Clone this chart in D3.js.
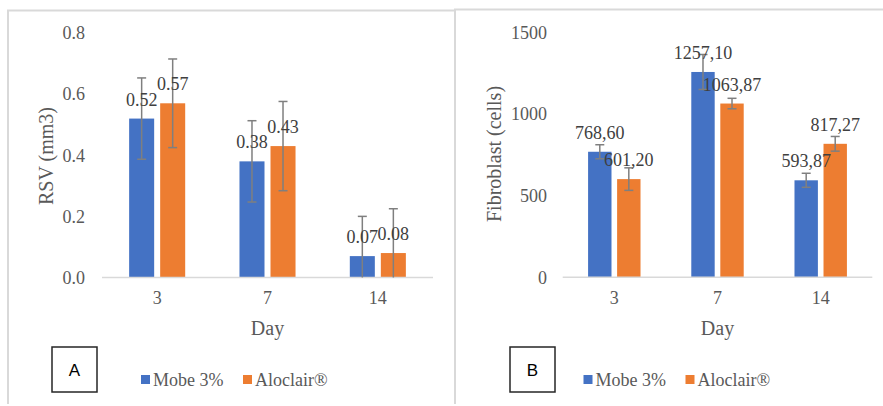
<!DOCTYPE html>
<html>
<head>
<meta charset="utf-8">
<script src="https://cdn.jsdelivr.net/npm/d3@7"></script>
<style>
  body { margin: 0; background: #fff; }
  svg text { font-family: "Liberation Serif", "Times New Roman", serif; }
</style>
</head>
<body>
<svg id="chart" width="883" height="406"></svg>
<script>
// data
const days = ['3', '7', '14'];
const seriesNames = ['Mobe 3%', 'Aloclair®'];
const seriesColors = ['#4472c4', '#ed7d31'];

// panel A - RSV (mm3)
const rsvMobe = [0.52, 0.38, 0.07];
const rsvAloclair = [0.57, 0.43, 0.08];
const rsvErrMobe = [0.133, 0.133, 0.13];
const rsvErrAloclair = [0.145, 0.146, 0.145];
const rsvTicks = [0, 0.2, 0.4, 0.6, 0.8];

// panel B - fibroblast (cells)
const fibMobe = [768.60, 1257.10, 593.87];
const fibAloclair = [601.20, 1063.87, 817.27];
const fibErrMobe = [43, 107, 43];
const fibErrAloclair = [69, 32, 45];
const fibTicks = [0, 500, 1000, 1500];

const svg = d3.select('#chart');

// panel frames
svg.append('path')
    .attr('d', 'M8,404V10.5H455')
    .attr('fill', 'none').attr('stroke', '#d9d9d9').attr('stroke-width', 2);
svg.append('path')
    .attr('d', 'M455,404V9.5H883')
    .attr('fill', 'none').attr('stroke', '#d9d9d9').attr('stroke-width', 2);

function drawPanel(cfg) {
  const x0 = d3.scaleBand()
      .domain(days)
      .range([cfg.left, cfg.right])
      .paddingInner(0.492)
      .paddingOuter(0.246);
  const x1 = d3.scaleBand()
      .domain(seriesNames)
      .range([0, x0.bandwidth()])
      .paddingInner(0.1935);
  const y = d3.scaleLinear()
      .domain([0, d3.max(cfg.ticks)])
      .range([cfg.bottom, cfg.top]);

  const g = svg.append('g');

  // y tick labels (no axis line, like Excel)
  const yAxis = d3.axisLeft(y)
      .tickValues(cfg.ticks)
      .tickFormat(cfg.tickFormat)
      .tickSize(0)
      .tickPadding(cfg.left - cfg.tickX);
  g.append('g')
      .attr('transform', `translate(${cfg.left},0)`)
      .call(yAxis)
      .call(a => a.select('.domain').remove())
      .selectAll('text')
      .attr('fill', '#595959')
      .style('font-size', '18px')
      .style('font-family', '"Liberation Serif", serif');

  // category axis
  const xAxis = d3.axisBottom(x0).tickSize(0).tickPadding(14);
  g.append('g')
      .attr('transform', `translate(0,${cfg.bottom})`)
      .call(xAxis)
      .call(a => a.select('.domain').remove())
      .selectAll('text')
      .attr('fill', '#595959')
      .style('font-size', '18px')
      .style('font-family', '"Liberation Serif", serif');

  // rows for each bar
  const rows = [];
  days.forEach((d, i) => {
    cfg.values.forEach((vals, s) => {
      rows.push({day: d, series: seriesNames[s], s: s, v: vals[i], e: cfg.errors[s][i]});
    });
  });

  g.selectAll('.bar')
      .data(rows)
    .join('rect')
      .attr('class', 'bar')
      .attr('x', d => x0(d.day) + x1(d.series))
      .attr('width', x1.bandwidth())
      .attr('y', d => y(d.v))
      .attr('height', d => y(0) - y(d.v))
      .attr('fill', d => seriesColors[d.s]);

  // baseline
  g.append('line')
      .attr('x1', cfg.left).attr('x2', cfg.right)
      .attr('y1', y(0)).attr('y2', y(0))
      .attr('stroke', '#d9d9d9').attr('stroke-width', 1.5);

  // error bars, clipped at the axis minimum
  const cx = d => x0(d.day) + x1(d.series) + x1.bandwidth() / 2;
  const eg = g.selectAll('.err')
      .data(rows)
    .join('g')
      .attr('class', 'err')
      .attr('stroke', '#7f7f7f')
      .attr('stroke-width', 1.5);
  eg.append('line')
      .attr('x1', cx).attr('x2', cx)
      .attr('y1', d => y(d.v + d.e))
      .attr('y2', d => y(Math.max(0, d.v - d.e)));
  eg.append('line')
      .attr('x1', d => cx(d) - 4.5).attr('x2', d => cx(d) + 4.5)
      .attr('y1', d => y(d.v + d.e)).attr('y2', d => y(d.v + d.e));
  eg.filter(d => d.v - d.e > 0).append('line')
      .attr('x1', d => cx(d) - 4.5).attr('x2', d => cx(d) + 4.5)
      .attr('y1', d => y(d.v - d.e)).attr('y2', d => y(d.v - d.e));

  // data labels
  g.selectAll('.lbl')
      .data(rows)
    .join('text')
      .attr('class', 'lbl')
      .attr('x', cx)
      .attr('y', d => y(d.v) - 13)
      .attr('text-anchor', 'middle')
      .attr('fill', '#404040')
      .style('font-size', '18px')
      .text(d => cfg.labelFormat(d.v));

  // axis titles
  g.append('text')
      .attr('transform', `translate(${cfg.yTitleX},${cfg.yTitleY}) rotate(-90)`)
      .attr('text-anchor', 'middle')
      .attr('dy', '0.35em')
      .attr('fill', '#595959')
      .style('font-size', '20px')
      .text(cfg.yTitle);
  g.append('text')
      .attr('x', (cfg.left + cfg.right) / 2)
      .attr('y', 328)
      .attr('dy', '0.35em')
      .attr('text-anchor', 'middle')
      .attr('fill', '#595959')
      .style('font-size', '20px')
      .text('Day');

  // legend
  const lg = g.append('g').attr('transform', `translate(${cfg.legendX},375)`);
  seriesNames.forEach((name, i) => {
    lg.append('rect')
        .attr('x', i * 102).attr('y', 0)
        .attr('width', 9).attr('height', 9)
        .attr('fill', seriesColors[i]);
    lg.append('text')
        .attr('x', i * 102 + 12).attr('y', 11)
        .attr('fill', '#595959')
        .style('font-size', '18px')
        .text(name);
  });

  // panel letter box
  g.append('rect')
      .attr('x', cfg.boxX).attr('y', 347)
      .attr('width', 45).attr('height', 45)
      .attr('fill', '#fff')
      .attr('stroke', '#262626').attr('stroke-width', 1.5);
  g.append('text')
      .attr('x', cfg.boxX + 22.5).attr('y', 370)
      .attr('dy', '0.35em')
      .attr('text-anchor', 'middle')
      .attr('fill', '#000')
      .style('font-family', '"Liberation Sans", Arial, sans-serif')
      .style('font-size', '17px')
      .text(cfg.letter);
}

drawPanel({
  values: [rsvMobe, rsvAloclair],
  errors: [rsvErrMobe, rsvErrAloclair],
  ticks: rsvTicks,
  tickFormat: d3.format('.1f'),
  labelFormat: d3.format('.2f'),
  left: 102, right: 433, top: 33, bottom: 277.5, tickX: 85,
  yTitle: 'RSV (mm3)', yTitleX: 46, yTitleY: 156,
  legendX: 141, boxX: 52, letter: 'A'
});

const commaFmt = d3.format('.2f');
drawPanel({
  values: [fibMobe, fibAloclair],
  errors: [fibErrMobe, fibErrAloclair],
  ticks: fibTicks,
  tickFormat: d3.format('d'),
  labelFormat: v => commaFmt(v).replace('.', ','),
  left: 562.7, right: 872.3, top: 32.3, bottom: 277.3, tickX: 547,
  yTitle: 'Fibroblast (cells)', yTitleX: 494, yTitleY: 154,
  legendX: 583.5, boxX: 510, letter: 'B'
});
</script>
</body>
</html>
